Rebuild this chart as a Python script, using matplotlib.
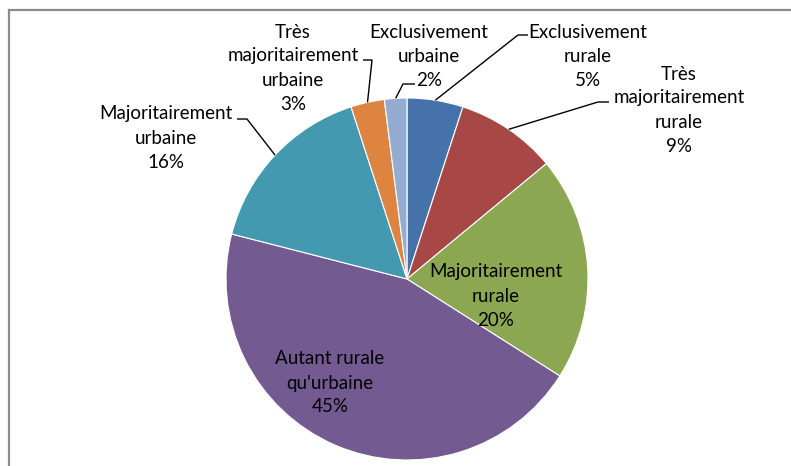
import numpy as np
import matplotlib.pyplot as plt
from matplotlib.lines import Line2D

# share of each category, clockwise from 12 o'clock
categories = ['Exclusivement\nrurale', 'Très\nmajoritairement\nrurale',
              'Majoritairement\nrurale', "Autant rurale\nqu'urbaine",
              'Majoritairement\nurbaine', 'Très\nmajoritairement\nurbaine',
              'Exclusivement\nurbaine']
shares = [5, 9, 20, 45, 16, 3, 2]
colors = ['#4672aa', '#a84846', '#8ba752', '#735a90', '#4399b0', '#dd8540', '#95acd2']

W, H = 791, 466
fig = plt.figure(figsize=(W / 100, H / 100), dpi=100)
ax = fig.add_axes([0, 0, 1, 1])

cx, cy, r = 407, H - 279, 181
wedges, _ = ax.pie(shares, colors=colors, startangle=90, counterclock=False,
                   center=(cx, cy), radius=r, frame=True,
                   wedgeprops=dict(edgecolor='white', linewidth=0.8))
ax.set_xlim(0, W)
ax.set_ylim(0, H)
ax.set_aspect('equal')
ax.axis('off')

font = dict(family='Lato', fontsize=13.5, color='black')
LINE = 24  # pixels between label lines


def draw_label(i, x, y):
    # one text per line, stacked around the centre (x, y)
    lines = categories[i].split('\n') + [f'{shares[i]}%']
    top = y - LINE * (len(lines) - 1) / 2
    for k, s in enumerate(lines):
        ax.text(x, H - (top + k * LINE), s, ha='center', va='center', **font)


# labels placed inside the two big slices
inside = {2: (496, 296), 3: (330, 383)}
for i, (x, y) in inside.items():
    draw_label(i, x, y)

# outside labels: text centre, elbow start, elbow end (pixels from top-left)
outside = {
    0: ((588, 57), (528, 35), (518, 35)),
    1: ((679, 110), (609, 102), (598, 102)),
    4: ((166, 138), (237, 119), (247, 119)),
    5: ((293, 68), (363, 60), (372, 60)),
    6: ((429, 57), (415, 84), (403, 84)),
}
for i, (tc, e0, e1) in outside.items():
    draw_label(i, *tc)
    w = wedges[i]
    mid = np.deg2rad((w.theta1 + w.theta2) / 2)
    px, py = cx + r * np.cos(mid), cy + r * np.sin(mid)
    ax.plot([e0[0], e1[0], px], [H - e0[1], H - e1[1], py],
            color='black', linewidth=1.0, solid_capstyle='butt')

# chart frame (top and left edges)
fig.add_artist(Line2D([9 / W, 1], [1 - 10 / H, 1 - 10 / H], color='#8c8c8c', linewidth=1.6))
fig.add_artist(Line2D([9 / W, 9 / W], [0, 1 - 10 / H], color='#8c8c8c', linewidth=1.6))

fig.savefig('out.png', dpi=100)
